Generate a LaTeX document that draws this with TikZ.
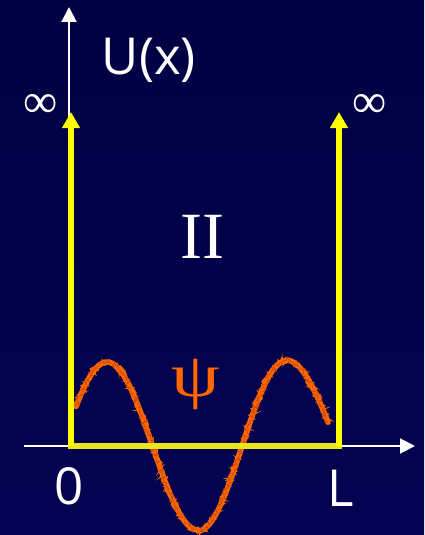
\documentclass[tikz,border=0pt]{standalone}
\usepackage{fontspec}
\setmainfont{Liberation Serif}
\setsansfont{Open Sans}
\usetikzlibrary{arrows.meta,positioning,decorations.pathmorphing}
\definecolor{night}{HTML}{000042}
\definecolor{nightlow}{HTML}{030352}
\definecolor{wall}{HTML}{FFFF00}
\definecolor{floor}{HTML}{E8E41E}
\definecolor{wave}{HTML}{FF6600}
\definecolor{wavedark}{HTML}{C84C00}
\tikzset{
  axisline/.style={draw=white, line width=2pt, -{Triangle[length=15pt,width=15pt]}},
  wallarrow/.style={draw=wall, line width=6pt, -{Triangle[length=16pt,width=17pt]}},
  floorline/.style={draw=floor, line width=6pt, line cap=rect},
  wavebase/.style={draw=wave, line width=5.5pt, line cap=round, line join=round},
  wavefuzz/.style={draw=wave, line width=1.2pt, decorate, decoration={random steps, segment length=1pt, amplitude=3.6pt}},
  wavespeck/.style={draw=wavedark, line width=0.6pt, decorate, decoration={random steps, segment length=1.2pt, amplitude=3.2pt}},
  sanslabel/.style={text=white, inner sep=0pt, font=\sffamily\fontsize{51}{51}\selectfont},
  inflabel/.style={text=white, inner sep=0pt, font=\fontsize{48}{48}\selectfont},
  regionlabel/.style={text=white, inner sep=0pt, font=\fontsize{66}{66}\selectfont},
  wavelabel/.style={text=wave, inner sep=0pt, font=\fontsize{62}{62}\selectfont}
}
\newcommand{\wavepath}{plot[domain=76:107, samples=16] (\x, {446-84*cos((\x-107)*2)})
  -- plot[domain=107:198, samples=40] (\x, {446-84*cos((\x-107)*180/91)})
  -- plot[domain=198:286, samples=40] (\x, {446+85*cos((\x-198)*180/88)})
  -- plot[domain=286:328, samples=20] (\x, {446-86*cos((\x-286)*74/42)})}
\begin{document}
\begin{tikzpicture}[x=1pt, y=-1pt]
\useasboundingbox (0,0) rectangle (424,535);
\fill[top color=night, bottom color=nightlow] (0,0) rectangle (424,535);
% axes
\coordinate (xstart) at (24,446);
\coordinate (xend) at (415,446);
\coordinate (ybase) at (69,446);
\coordinate (yend) at (69,7);
\draw[axisline] (xstart) -- (xend);
\draw[axisline] (ybase) -- (yend);
% wave function
\draw[wavebase] \wavepath;
\draw[wavefuzz] \wavepath;
\draw[wavespeck] \wavepath;
% infinite walls
\coordinate (wallL) at (71,446);
\coordinate (wallR) at (339,446);
\coordinate (topL) at (71,112);
\coordinate (topR) at (339,112);
\draw[floorline] (wallL) -- (wallR);
\draw[wallarrow] (wallL) -- (topL);
\draw[wallarrow] (wallR) -- (topR);
% labels
\node[sanslabel] (ulabel) at (149,60) {U(x)};
\node[inflabel, left=13pt of topL, yshift=6pt] (infL) {∞};
\node[inflabel, right=13pt of topR, yshift=6pt] (infR) {∞};
\node[regionlabel] (region) at (202,237) {II};
\node[wavelabel] (psi) at (196,384) {\scalebox{1.25}[1]{ψ}};
\node[sanslabel, below=21pt of ybase] (zero) {0};
\node[sanslabel, below=24pt of wallR, xshift=2pt] (len) {L};
\end{tikzpicture}
\end{document}
